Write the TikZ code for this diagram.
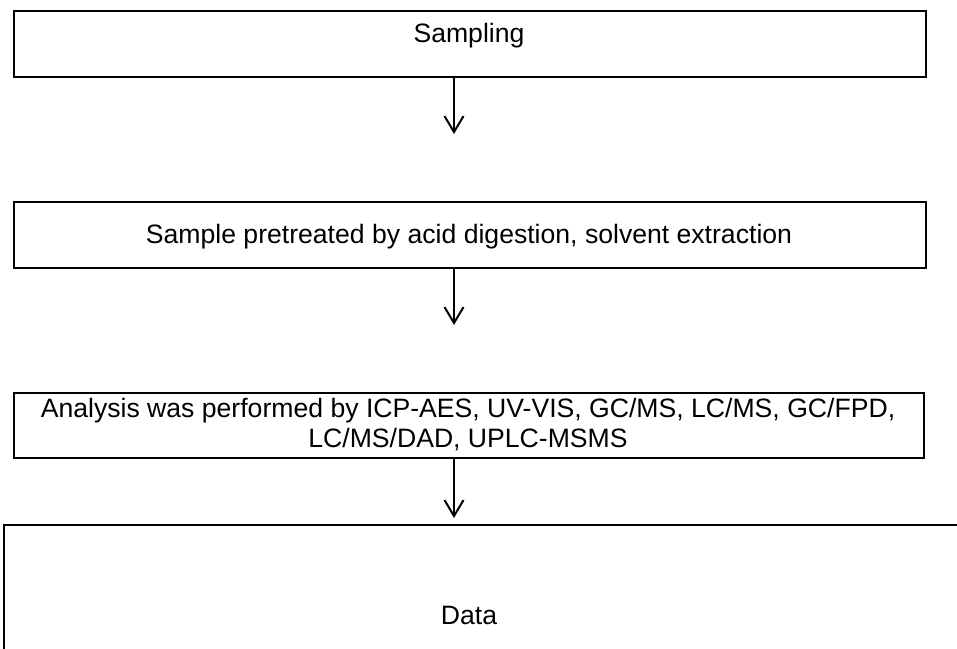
\documentclass[tikz,border=0pt]{standalone}
\usepackage{fontspec}
\setmainfont{Liberation Sans}
\usetikzlibrary{arrows.meta}
\begin{document}
\begin{tikzpicture}[x=1pt,y=-1pt,
  box/.style={draw,line width=2pt,anchor=north west,inner sep=0pt},
  txt/.style={anchor=base,align=center,inner sep=0pt,font=\fontsize{26.6}{29.5}\selectfont},
  arr/.style={line width=2pt,-{Straight Barb[length=16pt,width=19pt]}}]
\path[use as bounding box,fill=white] (0,0) rectangle (957,648);
\node[box,minimum width=912pt,minimum height=66pt] (b1) at (13,10) {};
\node[box,minimum width=912pt,minimum height=66pt] (b2) at (13,201) {};
\node[box,minimum width=910pt,minimum height=65pt] (b3) at (13,392) {};
\node[box,minimum width=990pt,minimum height=150pt] (b4) at (3,524) {};
\node[txt] (t1) at (469,42) {Sampling};
\node[txt] (t2) at (469,243) {Sample pretreated by acid digestion, solvent extraction};
\node[txt] (t3) at (468,447) {Analysis was performed by ICP-AES, UV-VIS, GC/MS, LC/MS, GC/FPD,\\LC/MS/DAD, UPLC-MSMS};
\node[txt] (t4) at (469,624) {Data};
\coordinate (e1) at (454,134);
\coordinate (e2) at (454,325);
\coordinate (e3) at (454,518);
\draw[arr] (b1.south -| e1) -- (e1);
\draw[arr] (b2.south -| e2) -- (e2);
\draw[arr] (b3.south -| e3) -- (e3);
\end{tikzpicture}
\end{document}
